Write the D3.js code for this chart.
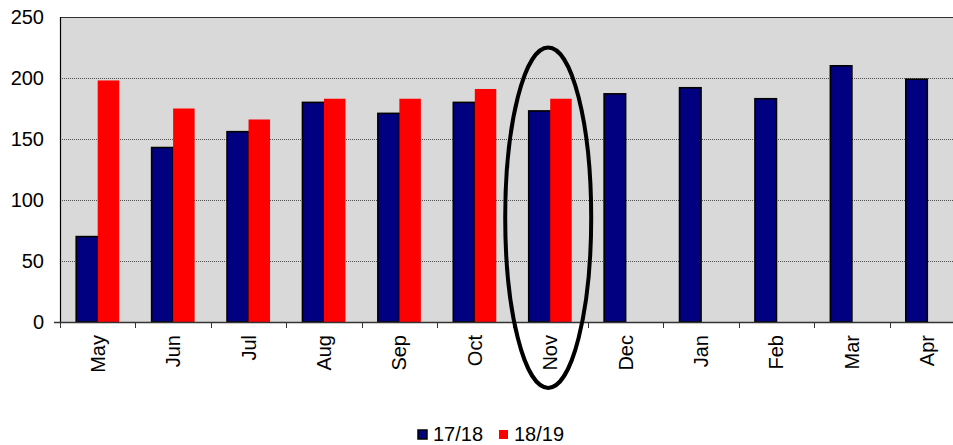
<!DOCTYPE html>
<html>
<head>
<meta charset="utf-8">
<script src="https://cdn.jsdelivr.net/npm/d3@7"></script>
<style>
  html, body { margin: 0; padding: 0; background: #fff; }
  svg { display: block; font-family: "Liberation Sans", Arial, sans-serif; }
</style>
</head>
<body>
<svg id="chart" width="953" height="445"></svg>
<script>
// Monthly figures, season 17/18 vs 18/19
const months = ["May", "Jun", "Jul", "Aug", "Sep", "Oct", "Nov", "Dec", "Jan", "Feb", "Mar", "Apr"];
const season1718 = [70, 143, 156, 180, 171, 180, 173, 187, 192, 183, 210, 199];
const season1819 = [198, 175, 166, 183, 183, 191, 183, null, null, null, null, null];
const seriesNames = ["17/18", "18/19"];
const yTicks = [0, 50, 100, 150, 200, 250];
const highlightMonth = "Nov";

const svg = d3.select("#chart");
const plot = { left: 60, top: 17, bottom: 322, right: 965 };

const x = d3.scaleBand().domain(months).range([plot.left, plot.right]).padding(0);
const y = d3.scaleLinear().domain([0, 250]).range([plot.bottom, plot.top]);
const barW = x.bandwidth() * 0.285;

// plot background
svg.append("rect")
  .attr("x", plot.left).attr("y", plot.top)
  .attr("width", plot.right - plot.left).attr("height", plot.bottom - plot.top)
  .attr("fill", "#d9d9d9");

// dotted gridlines
svg.append("g").selectAll("line")
  .data(yTicks.filter(t => t > 0 && t < 250))
  .join("line")
  .attr("x1", plot.left).attr("x2", plot.right)
  .attr("y1", d => y(d) + 0.5).attr("y2", d => y(d) + 0.5)
  .attr("stroke", "#505050").attr("stroke-width", 1)
  .attr("stroke-dasharray", "1,1");

// top border
svg.append("line")
  .attr("x1", plot.left).attr("x2", plot.right)
  .attr("y1", y(250) + 0.5).attr("y2", y(250) + 0.5)
  .attr("stroke", "#333").attr("stroke-width", 1);

// y tick labels
svg.append("g").selectAll("text")
  .data(yTicks)
  .join("text")
  .attr("x", 44).attr("y", d => y(d))
  .attr("dy", "0.35em")
  .attr("text-anchor", "end")
  .attr("font-size", 20)
  .attr("fill", "#000")
  .text(d => d);

// bars: 17/18
svg.append("g").selectAll("rect")
  .data(months.map((m, i) => ({ m, v: season1718[i] })).filter(d => d.v != null))
  .join("rect")
  .attr("x", d => x(d.m) + x.bandwidth() / 2 - barW)
  .attr("y", d => y(d.v))
  .attr("width", barW)
  .attr("height", d => y(0) - y(d.v))
  .attr("fill", "#000080")
  .attr("stroke", "#000").attr("stroke-width", 1.6);

// bars: 18/19
svg.append("g").selectAll("rect")
  .data(months.map((m, i) => ({ m, v: season1819[i] })).filter(d => d.v != null))
  .join("rect")
  .attr("x", d => x(d.m) + x.bandwidth() / 2)
  .attr("y", d => y(d.v))
  .attr("width", barW)
  .attr("height", d => y(0) - y(d.v))
  .attr("fill", "#ff0000");

// left axis line
svg.append("line")
  .attr("x1", plot.left + 0.5).attr("x2", plot.left + 0.5)
  .attr("y1", plot.top).attr("y2", plot.bottom + 1)
  .attr("stroke", "#000").attr("stroke-width", 1.2);

// bottom axis with ticks at category boundaries
svg.append("line")
  .attr("x1", 54).attr("x2", plot.right)
  .attr("y1", plot.bottom + 0.5).attr("y2", plot.bottom + 0.5)
  .attr("stroke", "#333").attr("stroke-width", 1.5);

svg.append("g").selectAll("line")
  .data(months)
  .join("line")
  .attr("x1", d => Math.round(x(d)) + 0.5).attr("x2", d => Math.round(x(d)) + 0.5)
  .attr("y1", plot.bottom).attr("y2", plot.bottom + 6)
  .attr("stroke", "#333").attr("stroke-width", 1);

// month labels, rotated
svg.append("g").selectAll("text")
  .data(months)
  .join("text")
  .attr("transform", d => `translate(${x(d) + x.bandwidth() / 2},335) rotate(-90)`)
  .attr("dy", "0.35em")
  .attr("text-anchor", "end")
  .attr("font-size", 20)
  .attr("fill", "#000")
  .text(d => d);

// highlight ring around the latest month
svg.append("ellipse")
  .attr("cx", x(highlightMonth) + x.bandwidth() / 2 - 2)
  .attr("cy", (y(225) + y(-54)) / 2)
  .attr("rx", 43)
  .attr("ry", (y(-54) - y(225)) / 2)
  .attr("fill", "none")
  .attr("stroke", "#000")
  .attr("stroke-width", 4);

// legend
const legend = svg.append("g");
const legendItems = [
  { name: seriesNames[0], fill: "#000080", stroke: "#000", x: 418 },
  { name: seriesNames[1], fill: "#ff0000", stroke: "none", x: 499 }
];
legendItems.forEach(it => {
  legend.append("rect")
    .attr("x", it.x).attr("y", 430)
    .attr("width", 9).attr("height", 9)
    .attr("fill", it.fill)
    .attr("stroke", it.stroke).attr("stroke-width", 1.5);
  legend.append("text")
    .attr("x", it.x + 15).attr("y", 441)
    .attr("font-size", 20)
    .attr("fill", "#000")
    .text(it.name);
});
</script>
</body>
</html>
